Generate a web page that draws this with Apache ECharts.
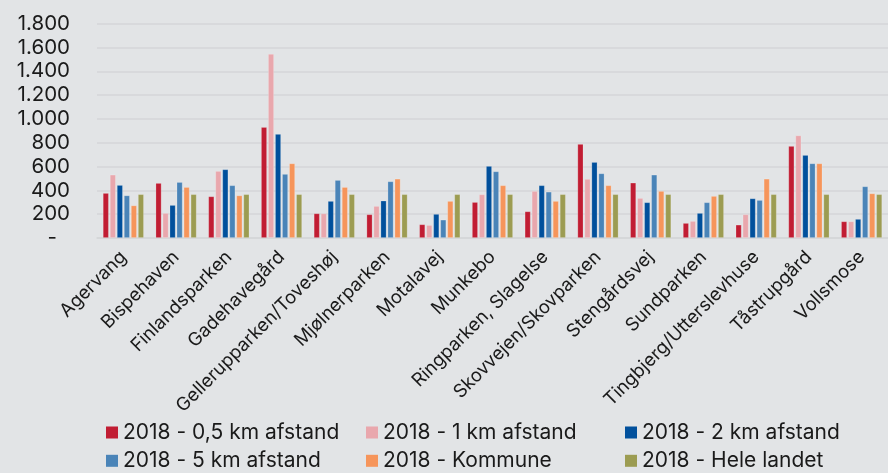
<!DOCTYPE html>
<html>
<head>
<meta charset="utf-8">
<script src="https://cdn.jsdelivr.net/npm/echarts@6/dist/echarts.min.js"></script>
<style>
html,body{margin:0;padding:0;background:#e2e4e6;}
#c{width:888px;height:473px;}
</style>
</head>
<body>
<div id="c"></div>
<script>
const categories = ["Agervang","Bispehaven","Finlandsparken","Gadehavegård","Gellerupparken/Toveshøj","Mjølnerparken","Motalavej","Munkebo","Ringparken, Slagelse","Skovvejen/Skovparken","Stengårdsvej","Sundparken","Tingbjerg/Utterslevhuse","Tåstrupgård","Vollsmose"];
const seriesNames = ["2018 - 0,5 km afstand","2018 - 1 km afstand","2018 - 2 km afstand","2018 - 5 km afstand","2018 - Kommune","2018 - Hele landet"];
const km05 = [378,462,350,932,207,199,115,302,224,790,465,126,112,773,140];
const km1 = [532,210,563,1546,207,269,109,367,395,496,336,143,199,862,140];
const km2 = [445,277,577,874,311,314,202,605,443,638,300,210,333,697,160];
const km5 = [358,470,443,538,487,476,154,560,389,543,532,300,319,627,434];
const kommune = [274,428,358,627,428,498,311,443,311,443,395,353,498,627,375];
const heleLandet = [368,368,368,368,368,368,368,368,368,368,368,368,368,368,368];
const yTicks = [0,200,400,600,800,1000,1200,1400,1600,1800];

const colors = ["#c11d33","#e9a7ad","#01509c","#4a84b8","#f6955b","#9c9c52"];
const values = [km05,km1,km2,km5,kommune,heleLandet];
const font = "Inter, 'Noto Sans', sans-serif";

const chart = echarts.init(document.getElementById('c'), null, {renderer:'canvas'});
const series = seriesNames.map((n,i)=>({
  name:n, type:'bar', data:values[i], barWidth:6, barGap:'17%',
  itemStyle:{color:colors[i], borderColor:'rgba(255,255,255,0.25)', borderWidth:0.8},
  emphasis:{disabled:true}
}));
function legendAt(left, names){
  return {
    orient:'vertical', left:left, top:422, height:60, padding:0, itemGap:7.3, itemWidth:12, itemHeight:12,
    icon:'rect', itemStyle:{borderWidth:0},
    textStyle:{fontFamily:font, fontSize:21, color:'#1a1a1a', lineHeight:21},
    data:names, selectedMode:false
  };
}
chart.setOption({
  backgroundColor:'#e2e4e6',
  animation:false,
  color:colors,
  grid:{left:97, right:0, top:23.7, bottom:235, containLabel:false},
  legend:[
    legendAt(106,[seriesNames[0],seriesNames[3]]),
    legendAt(366,[seriesNames[1],seriesNames[4]]),
    legendAt(625,[seriesNames[2],seriesNames[5]])
  ],
  xAxis:{
    type:'category', data:categories,
    axisLine:{show:true, lineStyle:{color:'#d4d6d8', width:1.5}},
    axisTick:{show:false},
    axisLabel:{rotate:45, interval:0, margin:16, fontFamily:font, fontSize:18.5, color:'#1a1a1a'}
  },
  yAxis:{
    type:'value', min:0, max:yTicks[yTicks.length-1], interval:yTicks[1]-yTicks[0],
    axisLine:{show:false}, axisTick:{show:false},
    splitLine:{lineStyle:{color:'#d4d6d8', width:1.5}},
    axisLabel:{
      margin:27, fontFamily:font, fontSize:20.5, color:'#1a1a1a',
      formatter:function(v){ return v===0 ? '{d|-}' : v.toLocaleString('da-DK').replace(/,/g,'.'); },
      rich:{d:{fontFamily:font, fontSize:20.5, color:'#1a1a1a', padding:[0,13,0,0]}}
    }
  },
  series:series
});
</script>
</body>
</html>
